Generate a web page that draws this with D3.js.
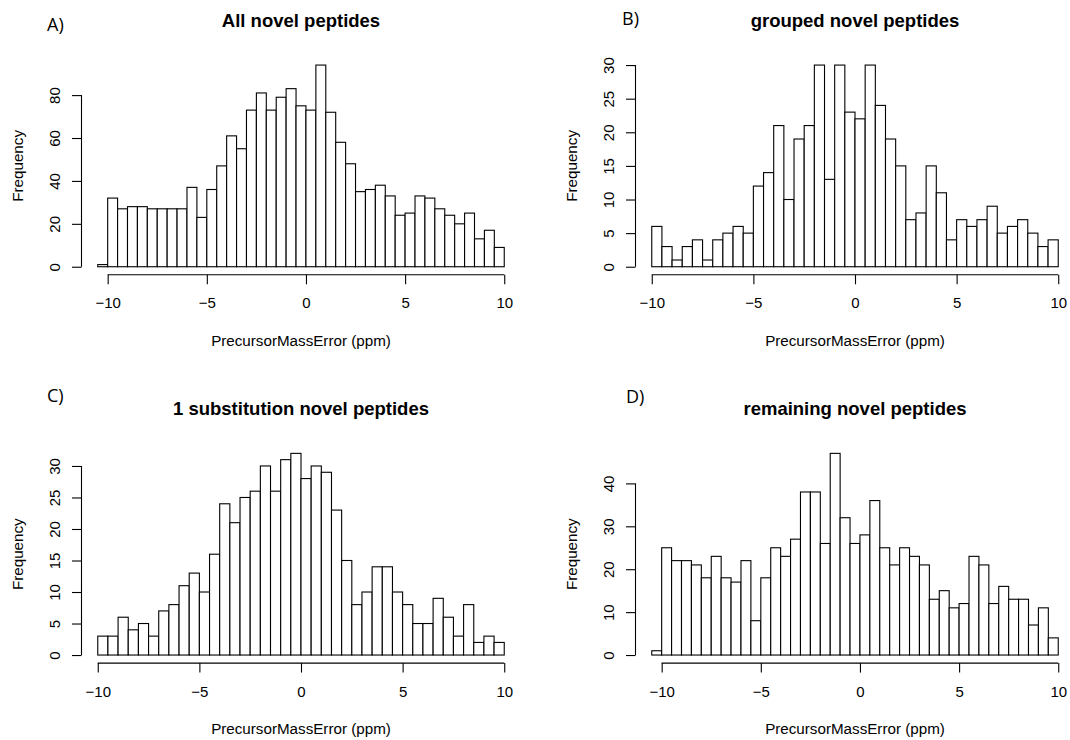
<!DOCTYPE html>
<html>
<head>
<meta charset="utf-8">
<script src="https://cdn.jsdelivr.net/npm/d3@7"></script>
<style>
  body { margin: 0; background: #fff; }
  svg { display: block; font-family: "Liberation Sans", Arial, Helvetica, sans-serif; }
</style>
</head>
<body>
<svg id="chart" width="1070" height="740"></svg>
<script>
// Panel labels & titles
const panelLabels = ["A)", "B)", "C)", "D)"];
const panelTitles = ["All novel peptides", "grouped novel peptides", "1 substitution novel peptides", "remaining novel peptides"];

// First break of each histogram (bins are 0.5 ppm wide, last break is 10)
const firstBreaks = [-10.5, -10, -10, -10.5];
const binWidth = 0.5;

// Counts per bin
const countsA = [1, 32, 27, 28, 28, 27, 27, 27, 27, 37, 23, 36, 47, 61, 55, 73, 81, 73, 79, 83,
                 75, 73, 94, 72, 58, 48, 35, 36, 38, 33, 24, 25, 33, 32, 27, 24, 20, 25, 13, 17, 9];
const countsB = [6, 3, 1, 3, 4, 1, 4, 5, 6, 5, 12, 14, 21, 10, 19, 21, 30, 13, 30, 23,
                 22, 30, 24, 19, 15, 7, 8, 15, 11, 4, 7, 6, 7, 9, 5, 6, 7, 5, 3, 4];
const countsC = [3, 3, 6, 4, 5, 3, 7, 8, 11, 13, 10, 16, 24, 21, 25, 26, 30, 26, 31, 32,
                 28, 30, 29, 23, 15, 8, 10, 14, 14, 10, 8, 5, 5, 9, 6, 3, 8, 2, 3, 2];
const countsD = [1, 25, 22, 22, 21, 18, 23, 18, 17, 22, 8, 18, 25, 23, 27, 38, 38, 26, 47, 32,
                 26, 28, 36, 25, 21, 25, 23, 21, 13, 15, 11, 12, 23, 21, 12, 16, 13, 13, 7, 11, 4];
const allCounts = [countsA, countsB, countsC, countsD];

// Tick labels
const xTicks = [-10, -5, 0, 5, 10];
const yTicksA = [0, 20, 40, 60, 80];
const yTicksB = [0, 5, 10, 15, 20, 25, 30];
const yTicksC = [0, 5, 10, 15, 20, 25, 30];
const yTicksD = [0, 10, 20, 30, 40];
const allYTicks = [yTicksA, yTicksB, yTicksC, yTicksD];

const xLabel = "PrecursorMassError (ppm)";
const yLabel = "Frequency";

// Layout (R style 2x2)
const plot = { left: 81.5, right: 520.5, top: 57, bottom: 274.8 };
const offsets = [[0, 0], [554, 0], [0, 388.3], [554, 388.3]];
const labelPos = [[47, 31], [622, 25], [47, 402], [626, 403]];

const svg = d3.select("#chart");
const fmt = d3.format("d");

allCounts.forEach((counts, i) => {
    const [ox, oy] = offsets[i];
    const g = svg.append("g").attr("transform", `translate(${ox},${oy})`);

    const bins = counts.map((c, k) => ({
        x0: firstBreaks[i] + k * binWidth,
        x1: firstBreaks[i] + (k + 1) * binWidth,
        count: c
    }));
    const lo = bins[0].x0, hi = bins[bins.length - 1].x1;
    const padX = (hi - lo) * 0.04;
    const maxC = d3.max(counts);

    const x = d3.scaleLinear()
        .domain([lo - padX, hi + padX])
        .range([plot.left, plot.right]);
    const y = d3.scaleLinear()
        .domain([-0.04 * maxC, maxC * 1.04])
        .range([plot.bottom, plot.top]);

    // bars
    g.selectAll("rect.bar")
        .data(bins)
        .enter()
        .append("rect")
        .attr("class", "bar")
        .attr("x", d => x(d.x0))
        .attr("y", d => y(d.count))
        .attr("width", d => x(d.x1) - x(d.x0))
        .attr("height", d => y(0) - y(d.count))
        .attr("fill", "#fff")
        .attr("stroke", "#000")
        .attr("stroke-width", 1.1);

    // x axis (R style: line only between first and last tick)
    const xAxis = g.append("g")
        .attr("transform", `translate(0,${plot.bottom})`)
        .call(d3.axisBottom(x).tickValues(xTicks).tickSize(9.5).tickPadding(6).tickFormat(fmt));
    xAxis.select(".domain")
        .attr("d", `M${x(xTicks[0])},0H${x(xTicks[xTicks.length - 1])}`)
        .attr("stroke-width", 1.1);
    xAxis.selectAll(".tick line").attr("stroke-width", 1.1);
    xAxis.selectAll(".tick text")
        .attr("y", 0)
        .attr("dy", 0)
        .attr("transform", "translate(0,33.5)")
        .style("font-size", "15px")
        .style("font-family", "Liberation Sans, Arial, sans-serif")
        .attr("fill", "#000");

    // y axis with rotated labels
    const yt = allYTicks[i];
    const yAxis = g.append("g")
        .attr("transform", `translate(${plot.left},0)`)
        .call(d3.axisLeft(y).tickValues(yt).tickSize(9.5).tickFormat(fmt));
    yAxis.select(".domain")
        .attr("d", `M0,${y(yt[0])}V${y(yt[yt.length - 1])}`)
        .attr("stroke-width", 1.1);
    yAxis.selectAll(".tick line").attr("stroke-width", 1.1);
    yAxis.selectAll(".tick text")
        .attr("x", 0)
        .attr("dy", 0)
        .attr("text-anchor", "middle")
        .attr("transform", "translate(-21.5,0) rotate(-90)")
        .style("font-size", "15px")
        .style("font-family", "Liberation Sans, Arial, sans-serif")
        .attr("fill", "#000");

    // title
    g.append("text")
        .attr("x", (plot.left + plot.right) / 2)
        .attr("y", 26.5)
        .attr("text-anchor", "middle")
        .style("font-size", "18.5px")
        .style("font-weight", "bold")
        .text(panelTitles[i]);

    // axis titles
    g.append("text")
        .attr("x", (plot.left + plot.right) / 2)
        .attr("y", 346)
        .attr("text-anchor", "middle")
        .style("font-size", "15.2px")
        .text(xLabel);

    g.append("text")
        .attr("transform", `translate(22.5,${(plot.top + plot.bottom) / 2}) rotate(-90)`)
        .attr("text-anchor", "middle")
        .style("font-size", "15.2px")
        .text(yLabel);

    // panel letter
    svg.append("text")
        .attr("x", labelPos[i][0])
        .attr("y", labelPos[i][1])
        .style("font-family", "'Open Sans', 'Noto Sans', sans-serif")
        .style("font-size", "18px")
        .text(panelLabels[i]);
});
</script>
</body>
</html>
